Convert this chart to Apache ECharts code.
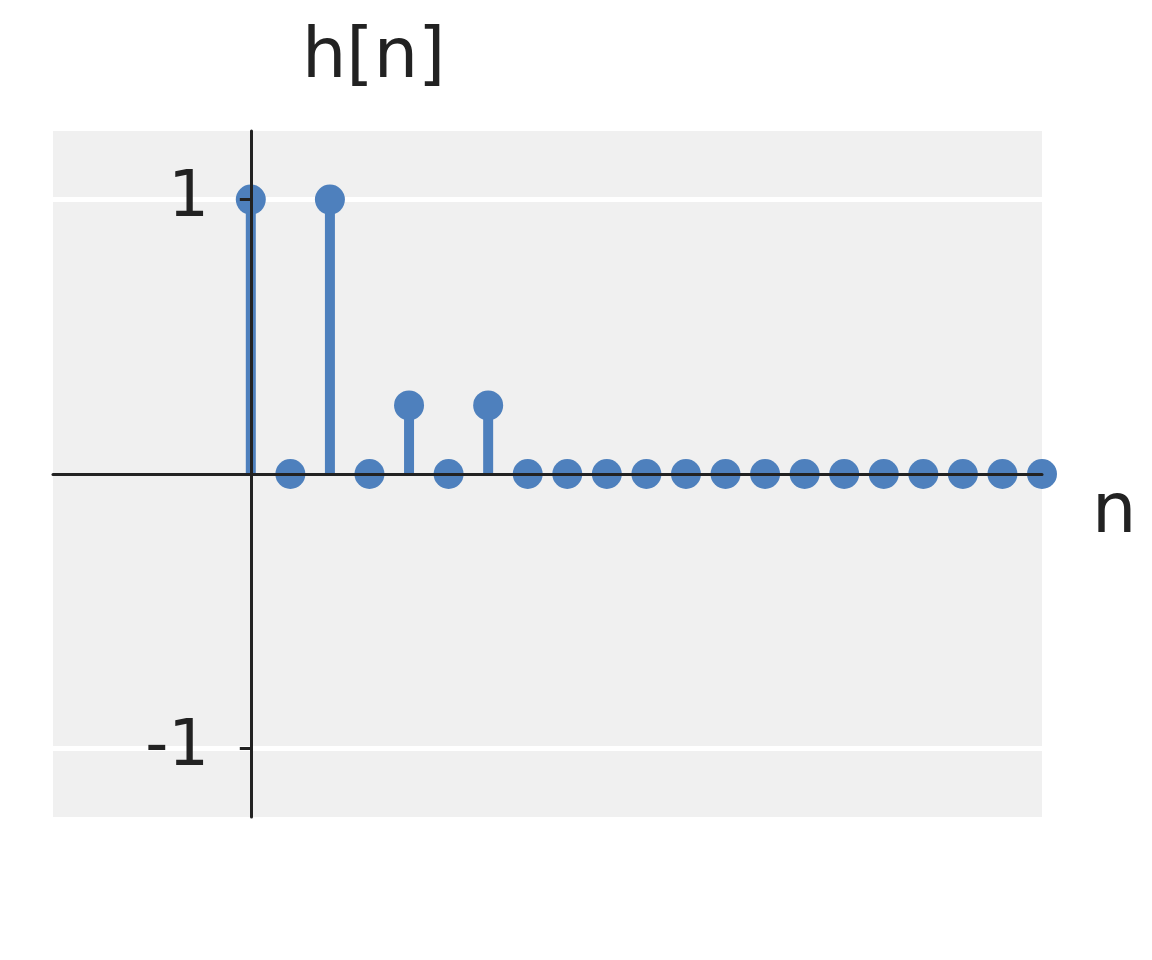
<!DOCTYPE html>
<html>
<head>
<meta charset="utf-8">
<script src="https://cdn.jsdelivr.net/npm/echarts@6/dist/echarts.min.js"></script>
<style>html,body{margin:0;padding:0;background:#fff;}#c{width:1152px;height:960px;}</style>
</head>
<body>
<div id="c"></div>
<script>
var n = [0,1,2,3,4,5,6,7,8,9,10,11,12,13,14,15,16,17,18,19,20];
var h = [1,0,1,0,0.25,0,0.25,0,0,0,0,0,0,0,0,0,0,0,0,0,0];
var yTicks = [-1, 1];
var gridLines = [-1, 1];
var titleText = 'h[n]';
var xName = 'n';

var pts = n.map(function (v, i) { return [v, h[i]]; });
var blue = '#4e80bd';
var ink = '#222222';
var font = 'DejaVu Sans';

var chart = echarts.init(document.getElementById('c'));
chart.setOption({
  animation: false,
  title: {
    text: titleText, left: 297, top: 19,
    textStyle: { fontFamily: font, fontSize: 70, fontWeight: 'normal', color: ink }
  },
  graphic: [{
    type: 'text', x: 1092, y: 514, silent: true,
    style: { text: xName, fontFamily: font, fontSize: 70, fill: ink, align: 'left', verticalAlign: 'middle' }
  }],
  grid: { left: 53, right: 110, top: 131, bottom: 143, show: true, backgroundColor: '#f0f0f0', borderWidth: 0, containLabel: false, outerBoundsMode: 'none' },
  xAxis: {
    type: 'value', min: -5, max: 20, z: 10,
    axisLine: { show: true, onZero: true, lineStyle: { color: ink, width: 3 } },
    axisTick: { show: false }, axisLabel: { show: false }, splitLine: { show: false }
  },
  yAxis: {
    type: 'value', min: -1.25, max: 1.25, z: 10,
    axisLine: { show: true, onZero: true, lineStyle: { color: ink, width: 3 } },
    axisTick: { show: true, customValues: yTicks, length: 11, lineStyle: { color: ink, width: 3 } },
    axisLabel: { show: true, customValues: yTicks, margin: -156, fontFamily: font, fontSize: 64, color: ink },
    splitLine: { show: false }
  },
  series: [
    {
      type: 'bar', data: pts, barWidth: 10, z: 7,
      itemStyle: { color: blue },
      markLine: {
        silent: true, symbol: 'none', animation: false,
        label: { show: false },
        lineStyle: { color: '#ffffff', width: 5, type: 'solid' },
        data: gridLines.map(function (v) { return { yAxis: v }; })
      }
    },
    {
      type: 'scatter', data: pts, symbol: 'circle', symbolSize: 30, z: 8,
      itemStyle: { color: blue, opacity: 1 }
    }
  ]
});
</script>
</body>
</html>
